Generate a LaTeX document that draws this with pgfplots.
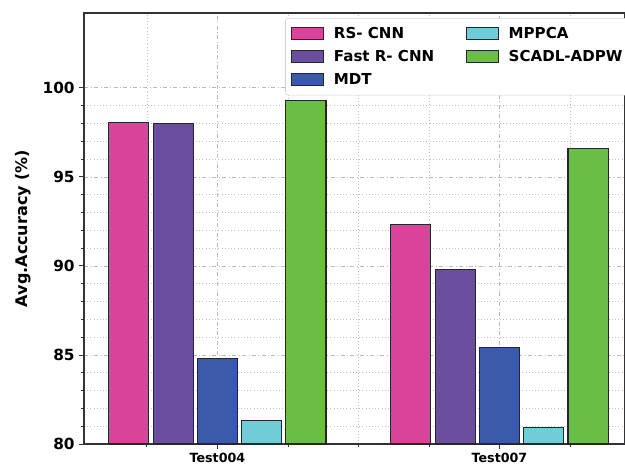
\documentclass[border=0pt]{standalone}
\usepackage{pgfplots}
\pgfplotsset{compat=1.18}
\usepackage{fontspec}
\setmainfont{DejaVu Sans}
\definecolor{cpink}{HTML}{D9449A}
\definecolor{cpurple}{HTML}{6A4FA0}
\definecolor{cblue}{HTML}{3A5BAA}
\definecolor{ccyan}{HTML}{6ECDD6}
\definecolor{cgreen}{HTML}{6BBE45}
\begin{document}
\begin{tikzpicture}[x=1pt,y=1pt]
\begin{axis}[
  scale only axis,
  width=405.75pt, height=323.25pt,
  at={(0,0)}, anchor=south west,
  ymin=80, ymax=104.2,
  xmin=-0.473, xmax=1.445,
  ytick={80,85,90,95,100},
  minor y tick num=4,
  xtick={0,1},
  xticklabels={Test004,Test007},
  minor xtick={-0.25,0.25,0.5,0.75,1.25},
  tick align=outside,
  major tick length=3.5pt,
  minor tick length=2pt,
  tick style={black!80, line width=0.6pt},
  xtick pos=bottom, ytick pos=left,
  grid=both,
  major grid style={dash dot, gray!55, line width=0.5pt},
  minor grid style={dotted, gray!50, line width=0.5pt},
  axis line style={black!80, line width=0.8pt},
  /pgf/number format/assume math mode=true,
  ticklabel style={font=\bfseries\fontsize{11.5}{13}\selectfont},
  xticklabel style={font=\bfseries\fontsize{9.5}{11}\selectfont, yshift=0pt},
  ylabel={Avg.Accuracy (\%)},
  ylabel style={font=\bfseries\fontsize{12}{14}\selectfont, yshift=2pt},
  ybar, bar width=0.142,
  legend columns=2,
  legend cell align=left,
  legend style={at={(0.372,0.988)}, anchor=north west,
    draw=gray!35, rounded corners=2pt, fill=white,
    font=\bfseries\fontsize{11.3}{13}\selectfont,
    /tikz/every even column/.append style={column sep=21pt},
    nodes={inner sep=2.5pt},
    row sep=2.5pt, inner sep=4pt},
  legend image code/.code={\draw[#1, sharp corners, line width=0.8pt] (0pt,-4.5pt) rectangle (24pt,4.5pt);},
  clip=false,
]
\addplot[forget plot, bar shift=-0.314, fill=cpink, draw=black!85, line width=0.8pt] coordinates {(0,98.05) (1,92.3)};
\addplot[forget plot, bar shift=-0.157, fill=cpurple, draw=black!85, line width=0.8pt] coordinates {(0,97.98) (1,89.8)};
\addplot[forget plot, bar shift=0, fill=cblue, draw=black!85, line width=0.8pt] coordinates {(0,84.8) (1,85.4)};
\addplot[forget plot, bar shift=0.157, fill=ccyan, draw=black!85, line width=0.8pt] coordinates {(0,81.3) (1,80.9)};
\addplot[forget plot, bar shift=0.314, fill=cgreen, draw=black!85, line width=0.8pt] coordinates {(0,99.27) (1,96.6)};
\addlegendimage{fill=cpink, draw=black!85}
\addlegendentry{\hspace{5pt}RS- CNN}
\addlegendimage{fill=ccyan, draw=black!85}
\addlegendentry{\hspace{5pt}MPPCA}
\addlegendimage{fill=cpurple, draw=black!85}
\addlegendentry{\hspace{5pt}Fast R- CNN}
\addlegendimage{fill=cgreen, draw=black!85}
\addlegendentry{\hspace{5pt}SCADL-ADPW}
\addlegendimage{fill=cblue, draw=black!85}
\addlegendentry{\hspace{5pt}MDT}
\end{axis}
\pgfresetboundingbox
\path (-63pt,-16.5pt) rectangle (405.75pt,333pt);
\end{tikzpicture}
\end{document}
